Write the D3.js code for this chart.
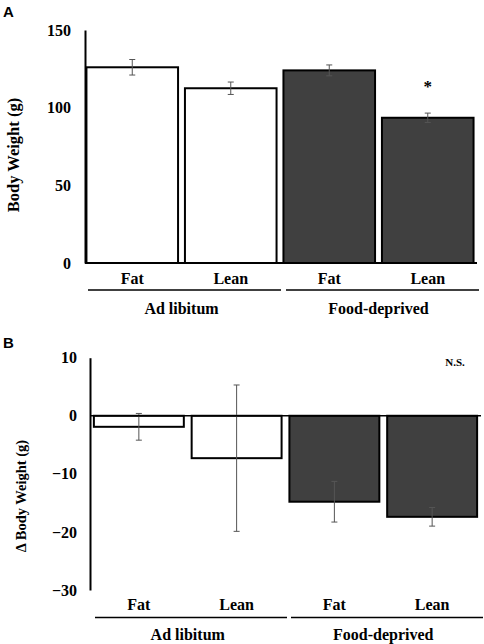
<!DOCTYPE html>
<html><head><meta charset="utf-8">
<script src="https://cdn.jsdelivr.net/npm/d3@7"></script>
<style>
body{margin:0;background:#fff;}
svg{display:block;}
text{font-family:"Liberation Serif","Times New Roman","DejaVu Serif",serif;font-weight:bold;fill:#000;}
</style></head>
<body>
<script>
const categories = ["Fat","Lean","Fat","Lean"];
const groups = ["Ad libitum","Food-deprived"];
const weightMean = [126,112.5,124,93.5];
const weightErr = [5,4,3.5,3];
const deltaMean = [-1.9,-7.3,-14.8,-17.4];
const deltaErr = [2.3,12.6,3.5,1.6];
const ticksA = [0,50,100,150];
const ticksB = [10,0,-10,-20,-30];
const fills = ["#ffffff","#ffffff","#404040","#404040"];

const SERIF = '"Liberation Serif","Times New Roman","DejaVu Serif",serif';
const svg = d3.select("body").append("svg").attr("width",484).attr("height",644);

function panel(opts){
  const g = svg.append("g");
  const x = d3.scaleBand().domain(d3.range(4)).range(opts.xr).paddingInner(opts.pi).paddingOuter(opts.po);
  const y = d3.scaleLinear().domain(opts.dom).range(opts.yr);
  g.selectAll("rect.bar").data(opts.mean).join("rect").attr("class","bar")
    .attr("x",(d,i)=>x(i)).attr("width",x.bandwidth())
    .attr("y",d=>Math.min(y(d),y(0))).attr("height",d=>Math.abs(y(d)-y(0)))
    .attr("fill",(d,i)=>fills[i]).attr("stroke","#000").attr("stroke-width",2);
  const eb = g.selectAll("g.eb").data(opts.mean).join("g").attr("class","eb")
    .attr("stroke","#555").attr("stroke-width",1);
  eb.append("line").attr("x1",(d,i)=>x(i)+x.bandwidth()/2).attr("x2",(d,i)=>x(i)+x.bandwidth()/2)
    .attr("y1",(d,i)=>y(d+opts.err[i])).attr("y2",(d,i)=>y(d-opts.err[i]));
  [1,-1].forEach(s=>{
    eb.append("line").attr("x1",(d,i)=>x(i)+x.bandwidth()/2-3).attr("x2",(d,i)=>x(i)+x.bandwidth()/2+3)
      .attr("y1",(d,i)=>y(d+s*opts.err[i])).attr("y2",(d,i)=>y(d+s*opts.err[i]));
  });
  const ax = g.append("g").attr("transform",`translate(${opts.ax},0)`)
    .call(d3.axisLeft(y).tickValues(opts.ticks).tickSizeInner(0).tickSizeOuter(0).tickPadding(opts.tp));
  ax.attr("font-family",null).attr("font-size",null);
  ax.select(".domain").attr("stroke","#000").attr("stroke-width",2);
  ax.selectAll("text").style("font-size","16px").style("font-family",SERIF).style("font-weight","bold");
  g.append("line").attr("x1",opts.ax).attr("x2",opts.baseEnd).attr("y1",y(0)).attr("y2",y(0))
    .attr("stroke","#000").attr("stroke-width",opts.baseW);
  g.selectAll("text.cat").data(categories).join("text").attr("class","cat")
    .attr("x",(d,i)=>x(i)+x.bandwidth()/2).attr("y",opts.catY).attr("text-anchor","middle")
    .style("font-size","16px").text(d=>d);
  groups.forEach((gn,k)=>{
    g.append("line").attr("x1",opts.gl[k][0]).attr("x2",opts.gl[k][1]).attr("y1",opts.glY).attr("y2",opts.glY)
      .attr("stroke","#000").attr("stroke-width",1.5);
    g.append("text").attr("x",(x(2*k)+x(2*k+1)+x.bandwidth())/2).attr("y",opts.gY)
      .attr("text-anchor","middle").style("font-size","16px").text(gn);
  });
  g.append("text").attr("transform",`translate(${opts.yl[0]},${opts.yl[1]}) rotate(-90)`)
    .attr("text-anchor","middle").style("font-size",opts.ylSize).text(opts.ylabel);
  g.append("text").attr("x",3).attr("y",opts.letterY)
    .style("font-family","'Liberation Sans', Arial, sans-serif").style("font-size","15px").text(opts.letter);
  return {x,y,g};
}

const A = panel({xr:[83,477],pi:0.07,po:0.035,dom:[0,150],yr:[263,30],mean:weightMean,err:weightErr,
  ax:85,ticks:ticksA,tp:14,baseEnd:477,baseW:2,catY:284,gl:[[88,281],[286,479]],glY:290,gY:314,
  yl:[19,155],ylSize:"16.5px",ylabel:"Body Weight (g)",letter:"A",letterY:17});
A.g.append("text").attr("x",A.x(3)+A.x.bandwidth()/2).attr("y",A.y(weightMean[3]+weightErr[3])-21)
  .attr("text-anchor","middle").style("font-size","17px").text("*");

const B = panel({xr:[89,482],pi:0.08,po:0.05,dom:[-30,10],yr:[590,357.7],mean:deltaMean,err:deltaErr,
  ax:90,ticks:ticksB,tp:13,baseEnd:481,baseW:1.5,catY:610,gl:[[95,287],[291,483]],glY:617.5,gY:640,
  yl:[26,496],ylSize:"14.5px",ylabel:"Δ Body Weight (g)",letter:"B",letterY:348});
B.g.append("text").attr("x",455).attr("y",B.y(8.5)).attr("text-anchor","middle")
  .style("font-size","11px").text("N.S.");
</script>
</body></html>
